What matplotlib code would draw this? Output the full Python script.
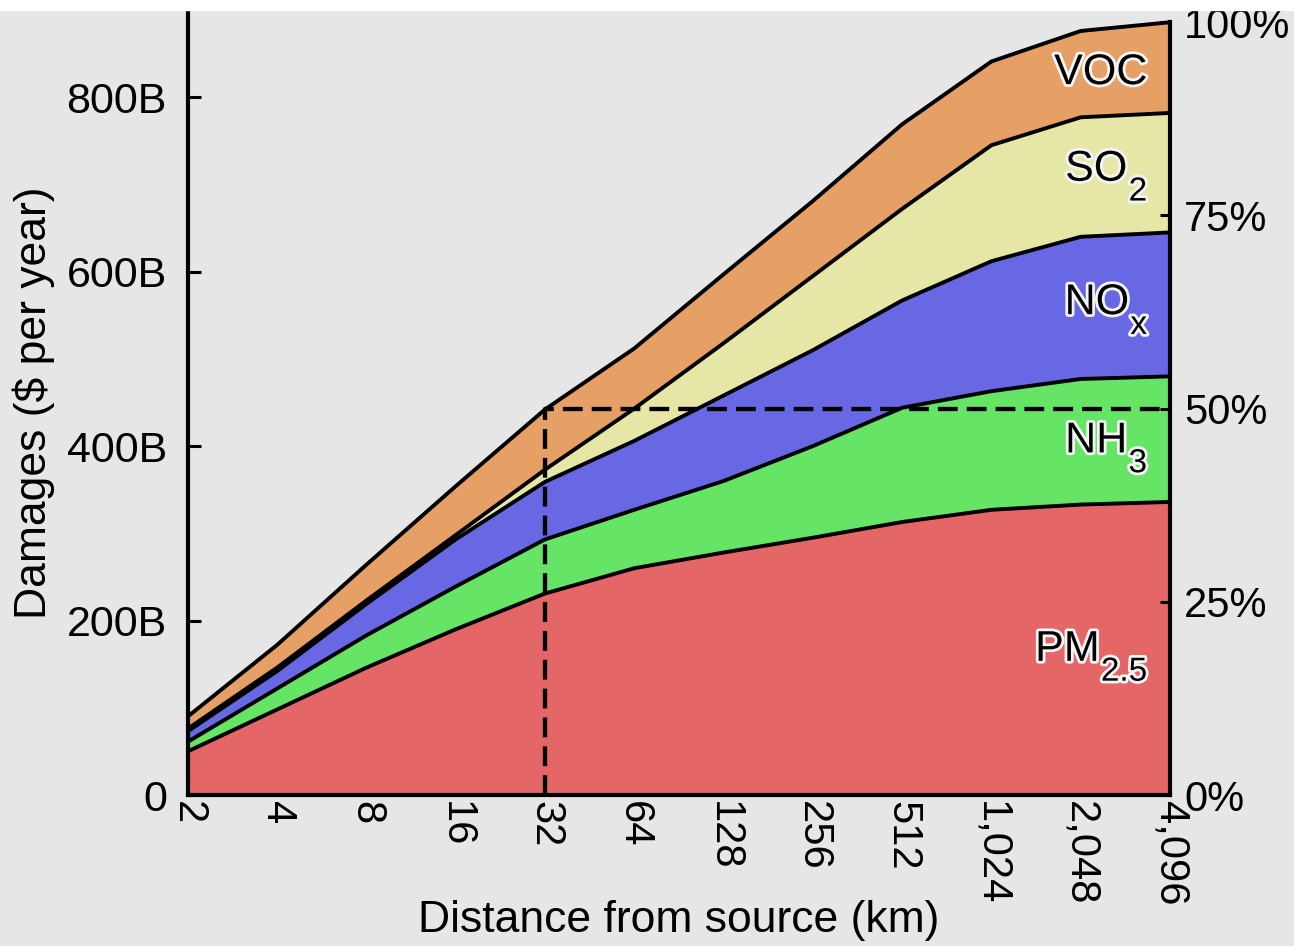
import numpy as np
import matplotlib
matplotlib.use("Agg")
import matplotlib.pyplot as plt
import matplotlib.patheffects as pe
from matplotlib.patches import Rectangle

plt.rcParams['font.family'] = ['Liberation Sans', 'DejaVu Sans']

# distance from source (km) and damages per pollutant (billion $ per year)
distance = [2, 4, 8, 16, 32, 64, 128, 256, 512, 1024, 2048, 4096]
pm25 = [50, 98, 146, 190, 231, 260, 278, 295, 313, 327, 333, 336]
nh3 = [11, 24, 37, 49, 62, 67, 82, 105, 131, 136, 144, 144]
nox = [12, 20, 36, 54, 66, 79, 98, 110, 123, 149, 163, 165]
so2 = [3, 4, 4, 5, 14, 37, 60, 85, 105, 133, 137, 137]
voc = [14, 26, 41, 56, 69, 69, 79, 86, 97, 96, 99, 104]

# band names split into main part and subscript
name_main = ['PM', 'NH', 'NO', 'SO', 'VOC']
name_sub = ['2.5', '3', 'x', '2', '']
colors = ['#E56666', '#66E466', '#6868E4', '#E6E6A6', '#E6A066']
bg = '#E6E6E6'

layers = np.array([pm25, nh3, nox, so2, voc], dtype=float)
tops = np.cumsum(layers, axis=0)
total_max = tops[-1][-1]

fig = plt.figure(figsize=(12.94, 9.46), dpi=100, facecolor=bg)
ax = fig.add_axes([0.1451, 0.1596, 0.7591, 0.8298])
ax.set_facecolor(bg)

ax.stackplot(distance, layers, colors=colors, linewidth=0)
for t in tops:
    ax.plot(distance, t, color='black', lw=2.8, solid_joinstyle='round')

# 50% marker
ax.plot([32, 32, distance[-1]], [0, total_max / 2, total_max / 2],
        color='black', lw=3.1, linestyle=(0, (4.6, 2.1)))

ax.set_xscale('log', base=2)
ax.set_xlim(distance[0], distance[-1])
ax.set_ylim(0, 900)
ax.set_xticks(distance)
ax.set_xticklabels([f"{d:,}" for d in distance], rotation=-90, fontsize=30)
ax.tick_params(axis='x', length=0, pad=4)
ax.set_yticks([0, 200, 400, 600, 800])
ax.set_yticklabels(['0', '200B', '400B', '600B', '800B'], fontsize=31)
ax.tick_params(axis='y', direction='in', length=9, width=2.2, pad=15)
ax.minorticks_off()

for s in ['top', 'right']:
    ax.spines[s].set_visible(False)
for s in ['left', 'bottom']:
    ax.spines[s].set_linewidth(3)

ax.set_ylabel('Damages ($ per year)', fontsize=32, labelpad=8)
ax.set_xlabel('Distance from source (km)', fontsize=32)
ax.xaxis.set_label_coords(0.5, -0.134)

# right axis: share of total
ax2 = ax.twinx()
ax2.set_ylim(ax.get_ylim())
ax2.set_yticks(total_max * np.array([0, 0.25, 0.5, 0.75, 1.0]))
ax2.set_yticklabels(['0%', '25%', '50%', '75%', '100%'], fontsize=30)
ax2.tick_params(axis='y', direction='in', length=7, width=2.2, pad=10)
for s in ['top', 'left', 'bottom']:
    ax2.spines[s].set_visible(False)
ax2.spines['right'].set_linewidth(3)
ax2.spines['right'].set_bounds(0, total_max)

# layer names near the right edge, baseline a bit under each band's middle
halo = [pe.withStroke(linewidth=4, foreground='#F4F4F4')]
bottoms = np.vstack([np.zeros(len(distance)), tops[:-1]])
offsets = [-11, -12, -8, -6, -19]
for main, sub, lo, hi, off in zip(name_main, name_sub, bottoms[:, -1],
                                  tops[:, -1], offsets):
    base = (lo + hi) / 2 + off
    if sub:
        st = ax.annotate(sub, xy=(distance[-1], base), xytext=(-16.5, 1),
                         textcoords='offset points', ha='right', va='top',
                         fontsize=24, path_effects=halo)
        ax.annotate(main, xy=(0, 1), xycoords=st, xytext=(-1, -3),
                    textcoords='offset points', ha='right', va='baseline',
                    fontsize=31, path_effects=halo)
    else:
        ax.annotate(main, xy=(distance[-1], base), xytext=(-16.5, 0),
                    textcoords='offset points', ha='right', va='baseline',
                    fontsize=31, path_effects=halo)

fig.patches.append(Rectangle((0, 1 - 10 / 946), 1, 10 / 946,
                             transform=fig.transFigure, color='white', zorder=10))

fig.savefig('out.png', dpi=100, facecolor=bg)
